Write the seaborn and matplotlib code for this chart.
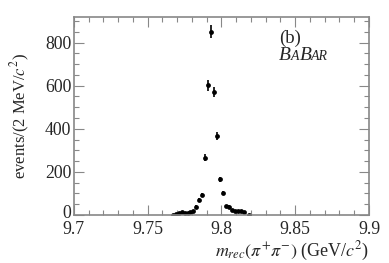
import matplotlib
matplotlib.use("Agg")
import matplotlib.pyplot as plt
import matplotlib.transforms as mtransforms
import seaborn as sns
import numpy as np
import pandas as pd
from matplotlib.ticker import MultipleLocator

# bin centres (GeV/c^2) and counts per 2 MeV bin
mass = [9.767, 9.769, 9.771, 9.773, 9.775, 9.777, 9.779, 9.781, 9.783, 9.785,
        9.787, 9.789, 9.791, 9.793, 9.795, 9.797, 9.799, 9.801, 9.803, 9.805,
        9.807, 9.809, 9.811, 9.813, 9.815, 9.819]
counts = [1, 3, 8, 12, 11, 8, 14, 20, 39, 70,
          92, 265, 602, 850, 570, 365, 165, 101, 42, 39,
          23, 20, 19, 17, 12, 1]
xticks = [9.7, 9.75, 9.8, 9.85, 9.9]
yticks = [0, 200, 400, 600, 800]

df = pd.DataFrame({"mass": mass, "counts": counts})
df["err"] = np.sqrt(df["counts"])

sns.set_style("ticks")
plt.rcParams["font.family"] = ["Liberation Serif", "DejaVu Serif"]
plt.rcParams["mathtext.fontset"] = "stix"

fig = plt.figure(figsize=(3.89, 2.63), dpi=100)
ax = fig.add_axes([0.19, 0.1825, 0.7586, 0.7525])

ax.errorbar(df["mass"], df["counts"], yerr=df["err"], fmt="none",
            ecolor="black", elinewidth=1.2, capsize=0)
sns.scatterplot(data=df, x="mass", y="counts", ax=ax, color="black",
                s=12, edgecolor="black", linewidth=0, legend=False)

ax.set_xlim(9.7, 9.9)
ax.set_ylim(0, 918)
ax.set_xticks(xticks)
ax.set_xticklabels(["9.7", "9.75", "9.8", "9.85", "9.9"])
ax.set_yticks(yticks)
ax.xaxis.set_minor_locator(MultipleLocator(0.01))
ax.yaxis.set_minor_locator(MultipleLocator(50))
ax.tick_params(which="both", direction="in", top=True, right=True,
               color="#888888", labelsize=12.8)
ax.tick_params(axis="x", pad=4)
ax.tick_params(axis="y", pad=2)
ax.tick_params(which="major", length=7, width=0.8)
ax.tick_params(which="minor", length=3.5, width=0.8)
for s in ax.spines.values():
    s.set_color("#888888")
    s.set_linewidth(1.2)

# nudge the "0" up a touch so it doesn't collide with "9.7"
lbl0 = ax.get_yticklabels()[0]
lbl0.set_transform(lbl0.get_transform() +
                   mtransforms.ScaledTranslation(0, 2.5 / 72, fig.dpi_scale_trans))

ax.set_xlabel(r"$m_{rec}(\pi^{+}\pi^{-})$ (GeV/$c^{2}$)", fontsize=13,
              loc="right", labelpad=2)
ax.set_ylabel(r"events/(2 MeV/$c^{2}$)", fontsize=12, labelpad=9)

ax.text(0.695, 0.87, "(b)", transform=ax.transAxes, fontsize=13.5)
# BaBar logo text with small caps
parts = [("B", 14), ("A", 10), ("B", 14), ("AR", 10)]
fig.canvas.draw()
r = fig.canvas.get_renderer()
x0 = 0.695
for txt, fs in parts:
    t = ax.text(x0, 0.785, txt, transform=ax.transAxes, fontsize=fs,
                style="italic")
    bb = t.get_window_extent(renderer=r)
    x0 += bb.width / ax.get_window_extent(renderer=r).width

fig.savefig("out.png", dpi=100)
